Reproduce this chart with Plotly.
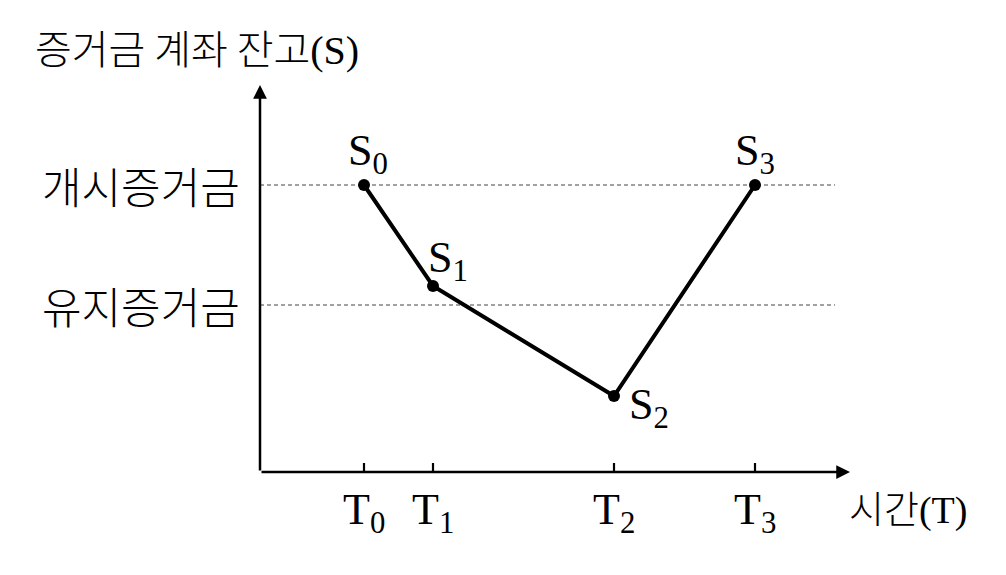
import plotly.graph_objects as go

# Data (time positions and account balances, arbitrary units)
t_labels = ["T<sub>0</sub>", "T<sub>1</sub>", "T<sub>2</sub>", "T<sub>3</sub>"]
s_labels = ["S<sub>0</sub>", "S<sub>1</sub>", "S<sub>2</sub>", "S<sub>3</sub>"]
t_values = [1.04, 1.73, 3.54, 4.95]
s_values = [2.87, 1.86, 0.76, 2.87]
initial_margin = 2.87
maintenance_margin = 1.67
level_labels = ["개시증거금", "유지증거금"]

KR = "Noto Sans CJK KR"
SERIF = "Liberation Serif"

fig = go.Figure()

# dashed margin levels
for lvl in [initial_margin, maintenance_margin]:
    fig.add_shape(type="line", x0=0, x1=5.75, y0=lvl, y1=lvl, xref="x", yref="y",
                  line=dict(color="#444444", width=1, dash="4px,3px"), layer="below")

# balance path
fig.add_trace(go.Scatter(x=t_values, y=s_values, mode="lines+markers",
                         line=dict(color="black", width=4),
                         marker=dict(color="black", size=12),
                         hoverinfo="skip", showlegend=False))

# axes with arrows
fig.add_annotation(x=5.9, y=0, ax=0, ay=0, xref="x", yref="y", axref="x", ayref="y",
                   showarrow=True, arrowhead=2, arrowsize=1.1, arrowwidth=2.5,
                   arrowcolor="black", text="")
fig.add_annotation(x=0, y=3.87, ax=0, ay=0, xref="x", yref="y", axref="x", ayref="y",
                   showarrow=True, arrowhead=2, arrowsize=1.1, arrowwidth=2.5,
                   arrowcolor="black", text="")

# ticks on x axis
for t in t_values:
    fig.add_shape(type="line", x0=t, x1=t, y0=-0.095, y1=0.09, xref="x", yref="y",
                  line=dict(color="black", width=2.2))

# tick labels
for t, lab in zip(t_values, t_labels):
    fig.add_annotation(x=t, y=0, xref="x", yref="paper", text=lab, showarrow=False,
                       xanchor="center", yanchor="middle", xshift=0, yshift=-40,
                       font=dict(family=SERIF, size=44, color="black"))

# point labels (pixel offsets of label centre from the point)
s_offsets = [(4, 32), (15, 26), (35, -11), (0, 32)]
for t, s, lab, (dx, dy) in zip(t_values, s_values, s_labels, s_offsets):
    fig.add_annotation(x=t, y=s, xref="x", yref="y", text=lab, showarrow=False,
                       xanchor="center", yanchor="middle", xshift=dx, yshift=dy,
                       font=dict(family=SERIF, size=44, color="black"))

# level labels
for lvl, lab in zip([initial_margin, maintenance_margin], level_labels):
    fig.add_annotation(x=0, y=lvl, xref="paper", yref="y", text=lab, showarrow=False,
                       xanchor="right", yanchor="middle", xshift=-18, yshift=0,
                       font=dict(family=KR, size=43, color="black", weight=300))

# axis titles
fig.add_annotation(x=-0.385, y=1.098, xref="paper", yref="paper", xanchor="left", yanchor="middle",
                   text=f'증거금 계좌 잔고<span style="font-family:{SERIF}">(S)</span>',
                   showarrow=False, font=dict(family=KR, size=40, color="black", weight=300))
fig.add_annotation(x=0.995, y=-0.088, xref="paper", yref="paper", xanchor="left", yanchor="middle",
                   text=f'시간<span style="font-family:{SERIF}">(T)</span>',
                   showarrow=False, font=dict(family=KR, size=38, color="black", weight=300))

fig.update_layout(
    width=1006, height=575,
    margin=dict(l=252, r=164, t=77, b=111),
    paper_bgcolor="white", plot_bgcolor="white",
    xaxis=dict(range=[0, 5.9], visible=False, fixedrange=True),
    yaxis=dict(range=[0, 3.87], visible=False, fixedrange=True),
    showlegend=False,
)

fig.write_html("out.html")
